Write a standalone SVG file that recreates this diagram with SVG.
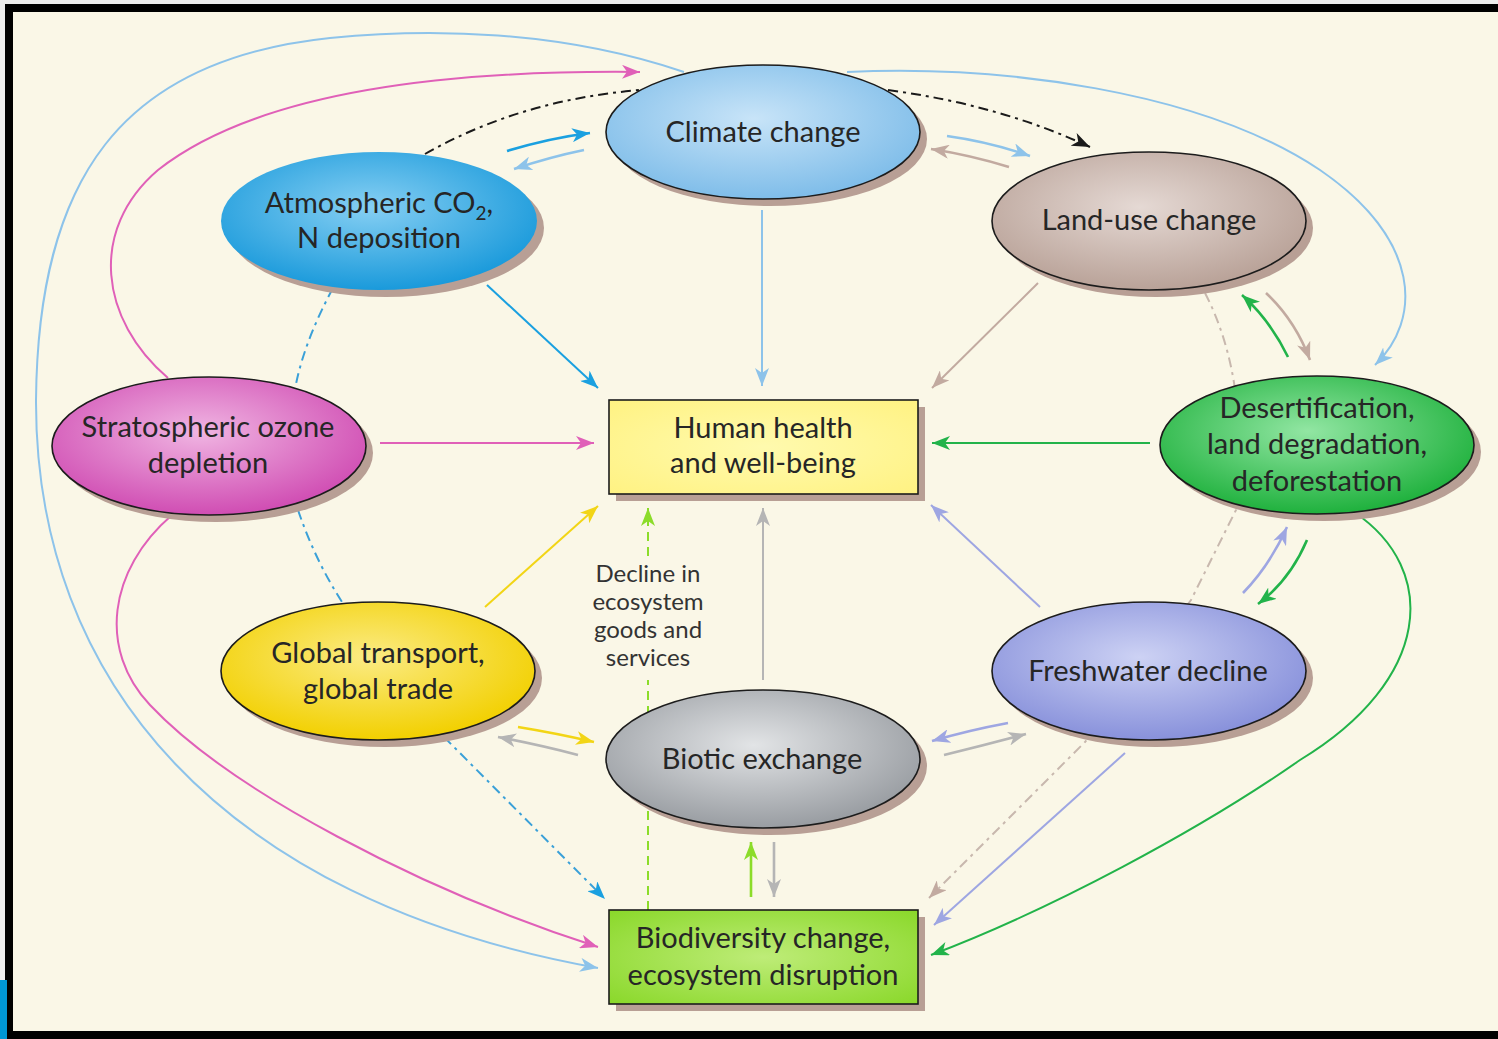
<svg xmlns="http://www.w3.org/2000/svg" width="1498" height="1039" viewBox="0 0 1498 1039">
<style>
.t{font-family:"Lato","Open Sans",sans-serif;font-size:29px;fill:#262626;text-anchor:middle}
.lbl{font-family:"Lato","Open Sans",sans-serif;font-size:24px;fill:#333;text-anchor:middle}
.n{stroke:#1c1c1c;stroke-width:1.6}
.sh{fill:#B89F95}
.c{fill:none;stroke-width:2}
.p{fill:none;stroke-width:2.6}
.dd{stroke-dasharray:10 5 3 5}
</style>
<defs>
<marker id="m-lblue" markerUnits="userSpaceOnUse" markerWidth="20" markerHeight="14" refX="18" refY="7" orient="auto"><path d="M0,0 L18,7 L0,14 L5,7 z" fill="#8DC3EA"/></marker>
<marker id="m-blue" markerUnits="userSpaceOnUse" markerWidth="20" markerHeight="14" refX="18" refY="7" orient="auto"><path d="M0,0 L18,7 L0,14 L5,7 z" fill="#1AA0E0"/></marker>
<marker id="m-pink" markerUnits="userSpaceOnUse" markerWidth="20" markerHeight="14" refX="18" refY="7" orient="auto"><path d="M0,0 L18,7 L0,14 L5,7 z" fill="#E060B8"/></marker>
<marker id="m-brown" markerUnits="userSpaceOnUse" markerWidth="20" markerHeight="14" refX="18" refY="7" orient="auto"><path d="M0,0 L18,7 L0,14 L5,7 z" fill="#C2AAA0"/></marker>
<marker id="m-green" markerUnits="userSpaceOnUse" markerWidth="20" markerHeight="14" refX="18" refY="7" orient="auto"><path d="M0,0 L18,7 L0,14 L5,7 z" fill="#22B34A"/></marker>
<marker id="m-lgreen" markerUnits="userSpaceOnUse" markerWidth="20" markerHeight="14" refX="18" refY="7" orient="auto"><path d="M0,0 L18,7 L0,14 L5,7 z" fill="#8CDC2A"/></marker>
<marker id="m-yellow" markerUnits="userSpaceOnUse" markerWidth="20" markerHeight="14" refX="18" refY="7" orient="auto"><path d="M0,0 L18,7 L0,14 L5,7 z" fill="#F2D516"/></marker>
<marker id="m-lav" markerUnits="userSpaceOnUse" markerWidth="20" markerHeight="14" refX="18" refY="7" orient="auto"><path d="M0,0 L18,7 L0,14 L5,7 z" fill="#9EA6E2"/></marker>
<marker id="m-gray" markerUnits="userSpaceOnUse" markerWidth="20" markerHeight="14" refX="18" refY="7" orient="auto"><path d="M0,0 L18,7 L0,14 L5,7 z" fill="#B5B5B5"/></marker>
<marker id="m-black" markerUnits="userSpaceOnUse" markerWidth="20" markerHeight="14" refX="18" refY="7" orient="auto"><path d="M0,0 L18,7 L0,14 L5,7 z" fill="#1a1a1a"/></marker>
<radialGradient id="g-climate" cx="0.47" cy="0.4" r="0.6"><stop offset="0" stop-color="#C8E4F8"/><stop offset="1" stop-color="#7FBDE9"/></radialGradient>
<radialGradient id="g-atmos" cx="0.47" cy="0.4" r="0.6"><stop offset="0" stop-color="#86CFF3"/><stop offset="1" stop-color="#1A9ADB"/></radialGradient>
<radialGradient id="g-land" cx="0.47" cy="0.4" r="0.6"><stop offset="0" stop-color="#E5D9D4"/><stop offset="1" stop-color="#B9A298"/></radialGradient>
<radialGradient id="g-strat" cx="0.47" cy="0.4" r="0.6"><stop offset="0" stop-color="#F0B5E2"/><stop offset="1" stop-color="#D04DB3"/></radialGradient>
<radialGradient id="g-desert" cx="0.47" cy="0.4" r="0.6"><stop offset="0" stop-color="#92E6A3"/><stop offset="1" stop-color="#1FB13D"/></radialGradient>
<radialGradient id="g-global" cx="0.47" cy="0.4" r="0.6"><stop offset="0" stop-color="#FBEB84"/><stop offset="1" stop-color="#F2D000"/></radialGradient>
<radialGradient id="g-fresh" cx="0.47" cy="0.4" r="0.6"><stop offset="0" stop-color="#CDD2F4"/><stop offset="1" stop-color="#8891DB"/></radialGradient>
<radialGradient id="g-biotic" cx="0.47" cy="0.4" r="0.6"><stop offset="0" stop-color="#E2E4E6"/><stop offset="1" stop-color="#999DA2"/></radialGradient>
<radialGradient id="g-human" cx="0.5" cy="0.5" r="0.7"><stop offset="0" stop-color="#FFFAAE"/><stop offset="1" stop-color="#FFF282"/></radialGradient>
<radialGradient id="g-bio" cx="0.5" cy="0.5" r="0.7"><stop offset="0" stop-color="#BEEC78"/><stop offset="1" stop-color="#8AD82A"/></radialGradient>
</defs>

<rect x="0" y="0" width="1498" height="1039" fill="#EDEDED"/>
<rect x="5" y="4" width="1493" height="1035" fill="#000"/>
<rect x="13" y="12" width="1485" height="1019" fill="#FAF7E7"/>
<rect x="0" y="980" width="7" height="59" fill="#0097D6"/>

<g id="connectors">
<path class="c" stroke="#8DC3EA" d="M684,72 C560,30 430,28 330,38 C120,60 38,180 36,400 C35,680 220,900 598,968" marker-end="url(#m-lblue)"/>
<path class="c" stroke="#E060B8" d="M168,378 C100,320 88,230 158,170 C260,90 450,70 640,72" marker-end="url(#m-pink)"/>
<path class="c" stroke="#8DC3EA" d="M847,72 C1000,65 1200,90 1320,170 C1422,240 1422,320 1375,365" marker-end="url(#m-lblue)"/>
<path class="c dd" stroke="#1a1a1a" d="M425,154 Q520,100 640,90"/>
<path class="c dd" stroke="#1a1a1a" d="M888,90 Q1000,105 1090,147" marker-end="url(#m-black)"/>
<path class="p" stroke="#1AA0E0" d="M507,151 Q550,138 590,133" marker-end="url(#m-blue)"/>
<path class="p" stroke="#8DC3EA" d="M584,150 Q550,157 514,169" marker-end="url(#m-lblue)"/>
<path class="p" stroke="#8DC3EA" d="M947,136 Q990,142 1030,156" marker-end="url(#m-lblue)"/>
<path class="p" stroke="#C2AAA0" d="M1009,167 Q970,155 931,149" marker-end="url(#m-brown)"/>
<path class="p" stroke="#22B34A" d="M1288,357 Q1270,320 1242,295" marker-end="url(#m-green)"/>
<path class="p" stroke="#C2AAA0" d="M1266,293 Q1295,320 1310,360" marker-end="url(#m-brown)"/>
<path class="c dd" stroke="#C8B8AE" d="M1205,293 Q1250,380 1236,510 L1191,600 L1085,742 L929,898" marker-end="url(#m-brown)"/>
<path class="p" stroke="#9EA6E2" d="M1243,593 Q1270,565 1287,527" marker-end="url(#m-lav)"/>
<path class="p" stroke="#22B34A" d="M1307,540 Q1290,580 1258,604" marker-end="url(#m-green)"/>
<path class="c" stroke="#22B34A" d="M1354,512 C1440,570 1432,680 1300,760 C1200,830 1050,910 931,955" marker-end="url(#m-green)"/>
<path class="c" stroke="#9EA6E2" d="M1125,753 L934,925" marker-end="url(#m-lav)"/>
<path class="p" stroke="#9EA6E2" d="M1008,723 Q970,730 932,741" marker-end="url(#m-lav)"/>
<path class="p" stroke="#B5B5B5" d="M944,755 Q985,745 1026,734" marker-end="url(#m-gray)"/>
<path class="p" stroke="#8CDC2A" d="M751,897 L751,842" marker-end="url(#m-lgreen)"/>
<path class="p" stroke="#B5B5B5" d="M774,842 L774,897" marker-end="url(#m-gray)"/>
<path class="c" stroke="#B5B5B5" d="M763,680 L763,508" marker-end="url(#m-gray)"/>
<path class="c" stroke="#F2D516" d="M485,607 L598,506" marker-end="url(#m-yellow)"/>
<path class="c" stroke="#1AA0E0" d="M487,285 L598,388" marker-end="url(#m-blue)"/>
<path class="c" stroke="#8DC3EA" d="M762,210 L762,386" marker-end="url(#m-lblue)"/>
<path class="c" stroke="#C2AAA0" d="M1038,283 L932,388" marker-end="url(#m-brown)"/>
<path class="c" stroke="#E060B8" d="M380,443 L594,443" marker-end="url(#m-pink)"/>
<path class="c" stroke="#22B34A" d="M1150,443 L932,443" marker-end="url(#m-green)"/>
<path class="c" stroke="#9EA6E2" d="M1040,607 L931,505" marker-end="url(#m-lav)"/>
<path class="c" stroke="#E060B8" d="M172,515 C108,570 98,650 150,705 C230,790 420,890 598,947" marker-end="url(#m-pink)"/>
<path class="c dd" stroke="#3AA0D8" d="M333,288 Q305,340 296,384 M298,510 Q315,560 342,602 M444,737 L605,899" marker-end="url(#m-blue)"/>
<path class="p" stroke="#F2D516" d="M518,727 Q555,733 594,742" marker-end="url(#m-yellow)"/>
<path class="p" stroke="#B5B5B5" d="M578,755 Q540,745 498,737" marker-end="url(#m-gray)"/>
<path class="c" stroke="#8CDC2A" stroke-dasharray="9 6" d="M648,910 L648,680"/>
<path class="c" stroke="#8CDC2A" stroke-dasharray="9 6" d="M648,556 L648,508" marker-end="url(#m-lgreen)"/>
</g>

<g id="climate">
<ellipse class="sh" cx="770" cy="139" rx="157" ry="67"/>
<ellipse class="n" cx="763" cy="132" rx="157" ry="67" fill="url(#g-climate)"/>
<text class="t" x="763" y="142">Climate change</text>
</g>
<g id="atmos">
<ellipse class="sh" cx="386" cy="228" rx="158" ry="69"/>
<ellipse cx="379" cy="221" rx="158" ry="69" fill="url(#g-atmos)"/>
<text class="t" x="379" y="213">Atmospheric CO<tspan font-size="19" dy="7">2</tspan><tspan dy="-7">,</tspan></text>
<text class="t" x="379" y="248">N deposition</text>
</g>
<g id="landuse">
<ellipse class="sh" cx="1156" cy="228" rx="157" ry="69"/>
<ellipse class="n" cx="1149" cy="221" rx="157" ry="69" fill="url(#g-land)"/>
<text class="t" x="1149" y="230">Land-use change</text>
</g>
<g id="strat">
<ellipse class="sh" cx="216" cy="453" rx="157" ry="69"/>
<ellipse class="n" cx="209" cy="446" rx="157" ry="69" fill="url(#g-strat)"/>
<text class="t" x="208" y="437">Stratospheric ozone</text>
<text class="t" x="208" y="473">depletion</text>
</g>
<g id="human">
<rect class="sh" x="616" y="407" width="309" height="94"/>
<rect class="n" x="609" y="400" width="309" height="94" fill="url(#g-human)"/>
<text class="t" x="763" y="438">Human health</text>
<text class="t" x="763" y="473">and well-being</text>
</g>
<g id="desert">
<ellipse class="sh" cx="1324" cy="452" rx="157" ry="69"/>
<ellipse class="n" cx="1317" cy="445" rx="157" ry="69" fill="url(#g-desert)"/>
<text class="t" x="1317" y="418">Desertification,</text>
<text class="t" x="1317" y="454">land degradation,</text>
<text class="t" x="1317" y="491">deforestation</text>
</g>
<g id="global">
<ellipse class="sh" cx="385" cy="678" rx="157" ry="69"/>
<ellipse class="n" cx="378" cy="671" rx="157" ry="69" fill="url(#g-global)"/>
<text class="t" x="378" y="663">Global transport,</text>
<text class="t" x="378" y="699">global trade</text>
</g>
<g id="fresh">
<ellipse class="sh" cx="1156" cy="678" rx="157" ry="69"/>
<ellipse class="n" cx="1149" cy="671" rx="157" ry="69" fill="url(#g-fresh)"/>
<text class="t" x="1148" y="681">Freshwater decline</text>
</g>
<g id="biotic">
<ellipse class="sh" cx="770" cy="766" rx="157" ry="69"/>
<ellipse class="n" cx="763" cy="759" rx="157" ry="69" fill="url(#g-biotic)"/>
<text class="t" x="762" y="769">Biotic exchange</text>
</g>
<g id="biodiv">
<rect class="sh" x="616" y="917" width="309" height="94"/>
<rect class="n" x="609" y="910" width="309" height="94" fill="url(#g-bio)"/>
<text class="t" x="763" y="948">Biodiversity change,</text>
<text class="t" x="763" y="985">ecosystem disruption</text>
</g>
<g id="services-label">
<text class="lbl" x="648" y="582">Decline in</text>
<text class="lbl" x="648" y="610">ecosystem</text>
<text class="lbl" x="648" y="638">goods and</text>
<text class="lbl" x="648" y="666">services</text>
</g>
</svg>
